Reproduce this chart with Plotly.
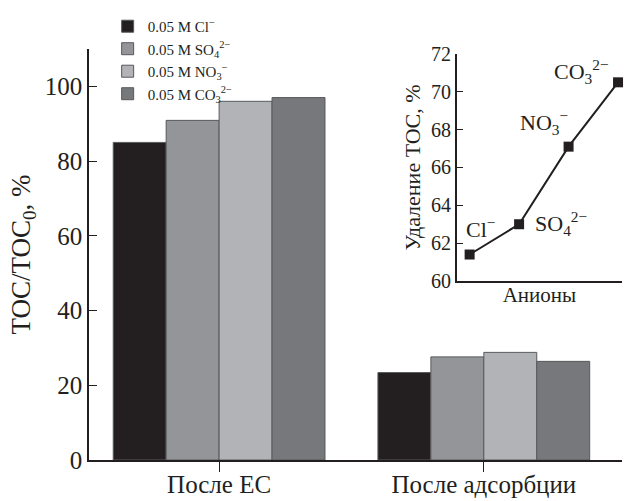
import plotly.graph_objects as go

groups = ["После ЕС", "После адсорбции"]
series_names = ["0.05 M Cl<sup>−</sup>", "0.05 M SO<sub>4</sub><sup>2−</sup>",
                "0.05 M NO<sub>3</sub><sup>−</sup>", "0.05 M CO<sub>3</sub><sup>2−</sup>"]
cl_vals = [85.0, 23.4]
so4_vals = [90.9, 27.6]
no3_vals = [96.0, 28.8]
co3_vals = [97.0, 26.4]
bar_colors = ["#231f20", "#939598", "#b1b3b6", "#77787b"]

inset_labels = ["Cl<sup>−</sup>", "SO<sub>4</sub><sup>2−</sup>", "NO<sub>3</sub><sup>−</sup>", "CO<sub>3</sub><sup>2−</sup>"]
inset_x = [0, 1, 2, 3]
inset_removal = [61.4, 63.0, 67.1, 70.5]
label_shift = [(11, 27), (42, 1), (-25, 24), (-37, 11)]

FONT = "Liberation Serif"
INK = "#231f20"

fig = go.Figure()
for name, vals, col in zip(series_names, [cl_vals, so4_vals, no3_vals, co3_vals], bar_colors):
    fig.add_trace(go.Bar(x=groups, y=vals, name=name,
                         marker=dict(color=col, line=dict(color="#58595b", width=1))))

fig.add_trace(go.Scatter(x=inset_x, y=inset_removal, xaxis="x2", yaxis="y2",
                         mode="lines+markers", showlegend=False, cliponaxis=False,
                         line=dict(color=INK, width=2),
                         marker=dict(symbol="square", size=10, color=INK)))

for xi, yi, lab, (dx, dy) in zip(inset_x, inset_removal, inset_labels, label_shift):
    fig.add_annotation(x=xi, y=yi, xref="x2", yref="y2", text=lab, showarrow=False,
                       xshift=dx, yshift=dy, font=dict(family=FONT, size=22, color=INK))

fig.update_layout(
    width=624, height=501,
    margin=dict(l=89, r=2, t=49, b=41, autoexpand=False),
    paper_bgcolor="white", plot_bgcolor="rgba(0,0,0,0)",
    barmode="group", bargap=0.2, bargroupgap=0,
    font=dict(family=FONT, color=INK),
    legend=dict(x=0.035, y=1.095, xanchor="left", yanchor="top",
                font=dict(family=FONT, size=15, color=INK),
                bgcolor="rgba(0,0,0,0)", tracegroupgap=0),
    xaxis=dict(type="category", range=[-0.4915, 1.522], showline=True, linecolor=INK, linewidth=1.5,
               ticks="outside", ticklen=10, tickcolor=INK, showgrid=False, automargin=False,
               ticklabelstandoff=-9,
               tickfont=dict(family=FONT, size=25, color=INK)),
    yaxis=dict(range=[0, 110], showline=True, linecolor=INK, linewidth=1.5, automargin=False,
               ticks="inside", ticklen=8, tickcolor=INK, showgrid=False, zeroline=False,
               tickvals=[0, 20, 40, 60, 80, 100], tickfont=dict(family=FONT, size=25, color=INK),
               title=dict(text="TOC/TOC<sub>0</sub>, %", font=dict(family=FONT, size=27, color=INK),
                          standoff=6)),
    xaxis2=dict(domain=[0.690, 1.0], anchor="y2", range=[-0.26, 3.08], showline=True,
                linecolor=INK, linewidth=1.5, showticklabels=False, ticks="", showgrid=False,
                zeroline=False, automargin=False,
                title=dict(text="Анионы", font=dict(family=FONT, size=21, color=INK), standoff=6)),
    yaxis2=dict(domain=[0.4355, 0.988], anchor="x2", range=[60, 72], showline=True,
                linecolor=INK, linewidth=1.5, ticks="inside", ticklen=6, tickcolor=INK,
                tickvals=[60, 62, 64, 66, 68, 70, 72], showgrid=False, zeroline=False,
                automargin=False,
                tickfont=dict(family=FONT, size=20, color=INK),
                title=dict(text="Удаление TOC, %", font=dict(family=FONT, size=22, color=INK),
                           standoff=4)),
)

fig.write_html("out.html")
